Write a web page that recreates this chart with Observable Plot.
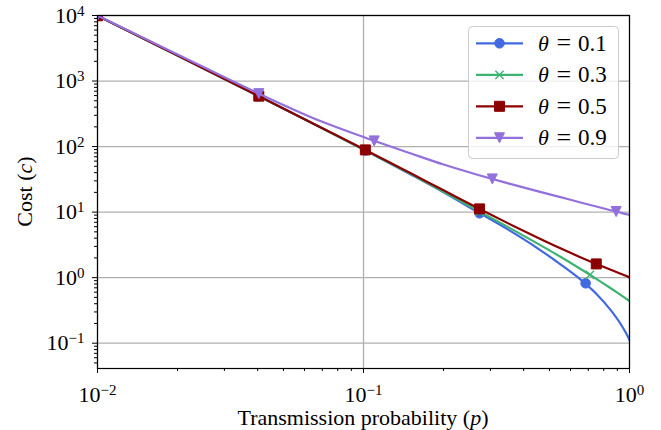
<!DOCTYPE html>
<html><head><meta charset="utf-8">
<script src="https://cdn.jsdelivr.net/npm/d3@7"></script>
<script src="https://cdn.jsdelivr.net/npm/@observablehq/plot@0.6"></script>
<style>body{margin:0;background:#fff}svg{display:block}</style>
</head><body><div id="chart"></div>
<script>
// ---- data ----
const pGrid    = [0.01, 0.02, 0.04, 0.07, 0.1, 0.15, 0.2, 0.27, 0.35, 0.45, 0.55, 0.65, 0.75, 0.85, 0.92, 0.97, 0.99, 1.0];
const cTheta01 = [9900, 2450, 600, 190, 90, 37.9, 20.1, 9.9, 5.4, 2.83, 1.6, 0.96, 0.57, 0.32, 0.205, 0.143, 0.122, 0.111];
const cTheta03 = [9900, 2450, 600, 190, 90.5, 38.3, 20.5, 10.5, 5.9, 3.33, 2.08, 1.38, 0.96, 0.69, 0.555, 0.48, 0.452, 0.44];
const cTheta05 = [9900, 2455, 600, 191, 92, 39.4, 21.5, 11.45, 6.73, 4.1, 2.8, 2.07, 1.62, 1.32, 1.16, 1.066, 1.025, 1.0];
const cTheta09 = [10000, 2540, 655, 239, 140, 79, 53.2, 36.9, 27.5, 20.9, 16.9, 14.15, 12.17, 10.69, 9.85, 9.33, 9.14, 9.04];

const markP01 = [0.01, 0.0404, 0.1016, 0.273, 0.684];
const markC01 = [9900, 588, 87.2, 9.6, 0.82];
const markP03 = [0.01, 0.0404, 0.1016, 0.273, 0.71];
const markC03 = [9900, 588, 87.7, 10.1, 1.1];
const markP05 = [0.01, 0.0404, 0.1016, 0.273, 0.75];
const markC05 = [9900, 588, 89, 11.2, 1.62];
const markP09 = [0.01, 0.0404, 0.1097, 0.305, 0.891];
const markC09 = [10000, 642, 122, 32.1, 10.2];

const thetaLabels = ["0.1", "0.3", "0.5", "0.9"];
const xMajorTicks = [0.01, 0.1, 1];
const yMajorTicks = [0.1, 1, 10, 100, 1000, 10000];

// ---- styles ----
const FONT = "'Liberation Serif', serif";
const colors = ["#4169E1", "#3CB371", "#8B0000", "#9370DB"];
const triangleDown = {draw(ctx, size) { const a = Math.sqrt(size / 2); ctx.moveTo(-a, -a); ctx.lineTo(a, -a); ctx.lineTo(0, a); ctx.closePath(); }};
const symbols = ["circle", "times", "square", triangleDown];
const radii = [4.8, 3.8, 5.64, 4.0];

const curves = [cTheta01, cTheta03, cTheta05, cTheta09];
const mps = [markP01, markP03, markP05, markP09];
const mcs = [markC01, markC03, markC05, markC09];

const xMinor = [], yMinor = [];
for (const d of [0.01, 0.1]) for (let k = 2; k <= 9; k++) xMinor.push(k * d);
for (const d of [0.01, 0.1, 1, 10, 100, 1000]) for (let k = 2; k <= 9; k++) { const v = k * d; if (v > 0.0411 && v < 1e4) yMinor.push(v); }

const lineMarks = [];
curves.forEach((arr, i) => {
  const lineData = pGrid.map((p, j) => ({p, c: arr[j]}));
  const markData = mps[i].map((p, j) => ({p, c: mcs[i][j]}));
  lineMarks.push(Plot.line(lineData, {x: "p", y: "c", stroke: colors[i], strokeWidth: 2.2, curve: "monotone-x", clip: true}));
  if (i === 1) {
    lineMarks.push(Plot.dot(markData, {x: "p", y: "c", r: radii[i], symbol: "times", stroke: colors[i], strokeWidth: 1.4, clip: true}));
  } else {
    lineMarks.push(Plot.dot(markData, {x: "p", y: "c", r: radii[i], symbol: symbols[i], fill: colors[i], stroke: colors[i], strokeWidth: 1, clip: true}));
  }
});

const expFmt = d => String(Math.round(Math.log10(d)));

const chart = Plot.plot({
  width: 661, height: 430,
  marginLeft: 97, marginRight: 32, marginTop: 15, marginBottom: 62,
  style: {fontFamily: FONT, fontSize: "22px", background: "white", color: "black"},
  x: {type: "log", domain: [0.01, 1], label: null},
  y: {type: "log", domain: [0.0411, 10000], label: null},
  marks: [
    Plot.gridX({ticks: xMajorTicks, stroke: "#b0b0b0", strokeOpacity: 1, strokeWidth: 1.3}),
    Plot.gridY({ticks: yMajorTicks, stroke: "#b0b0b0", strokeOpacity: 1, strokeWidth: 1.3}),
    ...lineMarks,
    Plot.frame({stroke: "black", strokeWidth: 1.2}),
    Plot.axisX({ticks: xMinor, tickSize: 3, tickFormat: () => "", label: null, strokeWidth: 1}),
    Plot.axisY({ticks: yMinor, tickSize: 3, tickFormat: () => "", label: null, strokeWidth: 1}),
    Plot.axisX({ticks: xMajorTicks, tickSize: 5, tickPadding: 13, tickFormat: expFmt, label: null, fontSize: 22, strokeWidth: 1}),
    Plot.axisY({ticks: yMajorTicks, tickSize: 5, tickPadding: 8, tickFormat: expFmt, label: null, fontSize: 22, strokeWidth: 1})
  ]
});
document.getElementById("chart").appendChild(chart);

const svg = d3.select(chart);
// superscript powers of ten
svg.selectAll('g[aria-label$="tick label"] text').each(function() {
  const t = d3.select(this);
  const s = t.text().trim();
  if (!s) return;
  t.text(null);
  t.append("tspan").text("10");
  t.append("tspan").attr("font-size", "15px").attr("dy", "-7").text(s.replace("-", "\u2212"));
});

// axis labels
const xl = svg.append("text").attr("x", 363).attr("y", 425).attr("text-anchor", "middle")
  .style("font-family", FONT).style("font-size", "22px").attr("fill", "black");
xl.append("tspan").text("Transmission probability (");
xl.append("tspan").attr("font-style", "italic").text("p");
xl.append("tspan").text(")");

const yl = svg.append("text").attr("transform", "translate(32,191.5) rotate(-90)").attr("text-anchor", "middle")
  .style("font-family", FONT).style("font-size", "22px").attr("fill", "black");
yl.append("tspan").text("Cost (");
yl.append("tspan").attr("font-style", "italic").text("c");
yl.append("tspan").text(")");

// legend
const lg = svg.append("g");
lg.append("rect").attr("x", 468.5).attr("y", 26.5).attr("width", 150).attr("height", 132).attr("rx", 4)
  .attr("fill", "white").attr("fill-opacity", 0.8).attr("stroke", "#cccccc").attr("stroke-width", 1);
const legText = (x, y, s, italic, size) => lg.append("text").attr("x", x).attr("y", y)
  .style("font-family", FONT).style("font-size", size + "px").style("font-style", italic ? "italic" : "normal")
  .attr("fill", "black").attr("text-anchor", "start").text(s);
thetaLabels.forEach((lab, i) => {
  const cy = 43.3 + i * 31.5;
  lg.append("line").attr("x1", 476).attr("x2", 523).attr("y1", cy).attr("y2", cy)
    .attr("stroke", colors[i]).attr("stroke-width", 2.2);
  const type = i === 1 ? d3.symbolTimes : (i === 0 ? d3.symbolCircle : (i === 2 ? d3.symbolSquare : triangleDown));
  const path = d3.symbol(type, Math.PI * radii[i] * radii[i])();
  const sp = lg.append("path").attr("d", path).attr("transform", `translate(499.5,${cy})`);
  if (i === 1) sp.attr("fill", "none").attr("stroke", colors[i]).attr("stroke-width", 1.4);
  else sp.attr("fill", colors[i]).attr("stroke", colors[i]).attr("stroke-width", 1);
  const by = cy + 7.5;
  legText(538, by, "\u03b8", true, 22);
  legText(556.5, by + 0.5, "=", false, 26);
  legText(578, by, lab, false, 23);
});
</script></body></html>
